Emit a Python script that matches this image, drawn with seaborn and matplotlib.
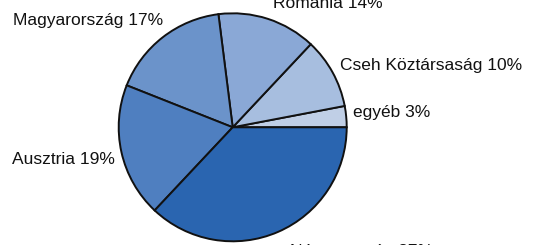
import seaborn as sns
import matplotlib.pyplot as plt

# data
countries = ['egyéb', 'Cseh Köztársaság', 'Románia', 'Magyarország', 'Ausztria', 'Németország']
shares = [3, 10, 14, 17, 19, 37]
colors = ['#c0cfe6', '#a7bedf', '#8aa8d6', '#6b93ca', '#4f7fc0', '#2a65b0']

# label anchor points (pixels from top-left) and alignment
label_pos = [(353, 113, 'left'), (340, 65, 'left'), (273, 3, 'left'),
             (13, 20, 'left'), (12, 160, 'left'), (290, 251, 'left')]

sns.set_theme(style='white')
plt.rcParams['font.family'] = ['Liberation Sans', 'DejaVu Sans']

W, H = 548, 245
fig = plt.figure(figsize=(W / 100, H / 100), dpi=100)
ax = fig.add_axes([0, 0, 1, 1])

# pie centre and radius in pixels
cx, cy, r = 232.7, 127.3, 114

ax.pie(shares, colors=sns.color_palette(colors), startangle=0, counterclock=True,
       wedgeprops=dict(edgecolor='#111111', linewidth=1.4))
ax.set_aspect('auto')
ax.set_xlim(-cx / r, (W - cx) / r)
ax.set_ylim(-(H - cy) / r, cy / r)
ax.axis('off')

for name, val, (px, py, ha) in zip(countries, shares, label_pos):
    fig.text(px / W, 1 - py / H, f'{name} {val}%', ha=ha, va='center',
             fontsize=12.5, color='#111111')

plt.savefig('out.png', dpi=100)
